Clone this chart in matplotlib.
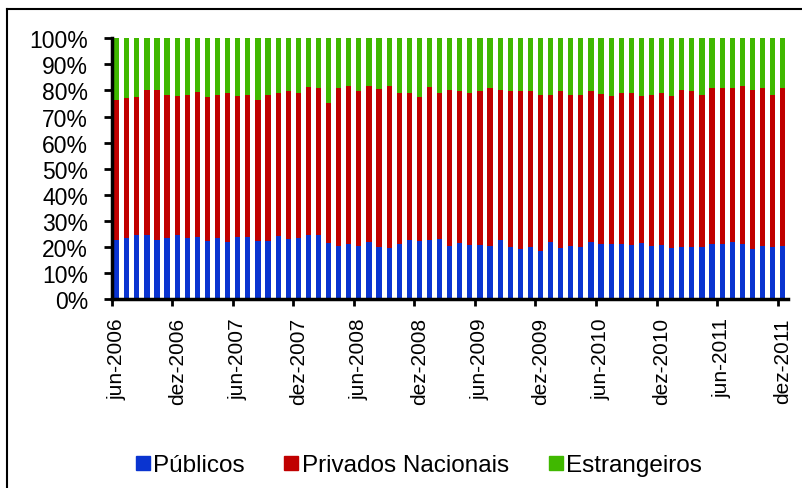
import matplotlib
matplotlib.use("Agg")
import matplotlib.pyplot as plt
from matplotlib.lines import Line2D
import numpy as np

plt.rcParams['font.family'] = ['Liberation Sans', 'DejaVu Sans']

# Monthly shares (%), jun-2006 .. dez-2011 (67 months)
publicos = [22.6, 23.3, 24.7, 24.7, 22.6, 23.4, 24.7, 23.5, 23.9, 22.3, 23.3, 21.9,
            23.9, 23.9, 22.4, 22.3, 24.3, 22.9, 23.3, 24.7, 24.7, 21.4, 20.5,
            21.1, 20.5, 21.7, 19.8, 19.6, 21.1, 22.6, 22.3, 22.5, 22.9, 20.5, 21.6,
            20.7, 20.7, 20.5, 22.5, 19.8, 19.2, 19.8, 18.5, 21.7, 19.7,
            20.3, 19.8, 21.7, 21.1, 21.1, 21.1, 20.8, 21.6, 20.5, 20.8, 19.6, 19.8,
            20.1, 19.8, 21.0, 21.1, 21.7, 21.1, 19.2, 20.3, 19.8, 20.5]
privados = [53.9, 53.7, 52.9, 55.5, 57.7, 54.9, 53.0, 54.8, 55.6, 55.3, 55.0, 57.0,
            53.8, 54.4, 53.9, 56.1, 54.6, 56.8, 55.6, 56.8, 56.2, 53.8, 60.4,
            60.5, 59.2, 59.9, 60.6, 62.0, 57.9, 56.3, 55.3, 59.0, 56.1, 59.7, 58.1,
            58.3, 59.1, 60.3, 57.8, 60.0, 60.6, 60.0, 59.9, 56.7, 60.1,
            58.1, 58.6, 58.0, 57.5, 56.9, 57.9, 58.2, 56.1, 57.9, 58.2, 58.4, 60.5,
            59.7, 58.6, 60.1, 60.0, 59.2, 60.6, 61.1, 60.6, 58.6, 60.4]
estrangeiros = [23.5, 23.0, 22.4, 19.8, 19.7, 21.7, 22.3, 21.7, 20.5, 22.4, 21.7, 21.1,
                22.3, 21.7, 23.7, 21.6, 21.1, 20.3, 21.1, 18.5, 19.1, 24.8, 19.1,
                18.4, 20.3, 18.4, 19.6, 18.4, 21.0, 21.1, 22.4, 18.5, 21.0, 19.8, 20.3,
                21.0, 20.2, 19.2, 19.7, 20.2, 20.2, 20.2, 21.6, 21.6, 20.2,
                21.6, 21.6, 20.3, 21.4, 22.0, 21.0, 21.0, 22.3, 21.6, 21.0, 22.0, 19.7,
                20.2, 21.6, 18.9, 18.9, 19.1, 18.3, 19.7, 19.1, 21.6, 19.1]

tick_labels = ['jun-2006', 'dez-2006', 'jun-2007', 'dez-2007', 'jun-2008', 'dez-2008',
               'jun-2009', 'dez-2009', 'jun-2010', 'dez-2010', 'jun-2011', 'dez-2011']
series_names = ['Públicos', 'Privados Nacionais', 'Estrangeiros']
colors = ['#0a34d0', '#c00000', '#40b800']

pub = np.array(publicos)
pri = np.array(privados)
est = np.array(estrangeiros)
tot = pub + pri + est
pub, pri, est = pub / tot * 100, pri / tot * 100, est / tot * 100

fig = plt.figure(figsize=(8.03, 4.89), dpi=100)
ax = fig.add_axes([0.139, 0.3865, 0.842, 0.533])

x = np.arange(len(pub))
w = 0.52
ax.bar(x, pub, width=w, color=colors[0], linewidth=0)
ax.bar(x, pri, width=w, bottom=pub, color=colors[1], linewidth=0)
ax.bar(x, est, width=w, bottom=pub + pri, color=colors[2], linewidth=0)

ax.set_ylim(0, 100)
ax.set_xlim(-0.45, len(pub) - 0.5)
ax.set_yticks(np.arange(0, 101, 10))
ax.set_yticklabels([f'{v}%' for v in range(0, 101, 10)], fontsize=16.5)
ax.tick_params(axis='y', direction='out', length=6, width=2, pad=11)

pos = np.arange(0, len(pub), 6)
ax.set_xticks(pos)
ax.set_xticklabels(tick_labels, rotation=90, fontsize=15)
ax.tick_params(axis='x', which='major', length=0, pad=13)
ax.set_xticks(pos - 0.5, minor=True)
ax.tick_params(axis='x', which='minor', direction='out', length=5, width=2)

for s in ['top', 'right']:
    ax.spines[s].set_visible(False)
for s in ['left', 'bottom']:
    ax.spines[s].set_linewidth(2.5)

handles = [Line2D([], [], marker='s', linestyle='none', markersize=10,
                  markerfacecolor=c, markeredgecolor=c) for c in colors]
fig.legend(handles, series_names, loc='center', bbox_to_anchor=(0.52, 0.047),
           ncol=3, frameon=False, fontsize=17.5, handletextpad=0.05,
           columnspacing=1.5, handlelength=0.8)

# outer frame (top and left lines)
fig.add_artist(Line2D([7/803, 1.0], [1 - 10/489, 1 - 10/489], color='black',
                      linewidth=1.5, transform=fig.transFigure))
fig.add_artist(Line2D([7/803, 7/803], [0, 1 - 10/489], color='black',
                      linewidth=1.5, transform=fig.transFigure))

fig.savefig('out.png', dpi=100)
